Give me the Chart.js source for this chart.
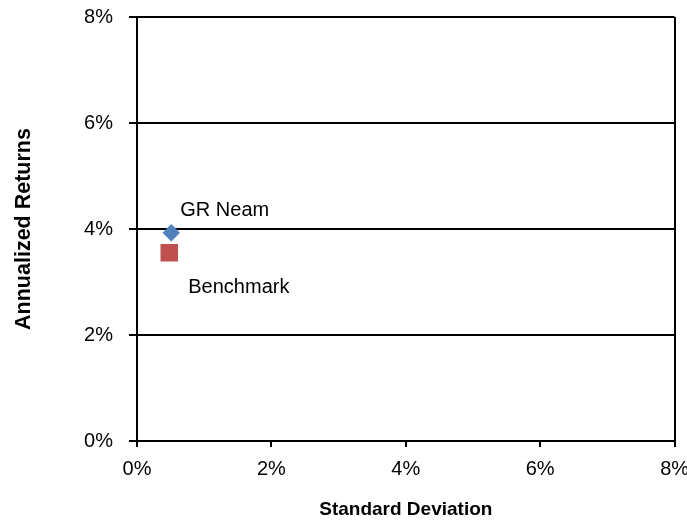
<!DOCTYPE html>
<html>
<head>
<meta charset="utf-8">
<script src="https://cdn.jsdelivr.net/npm/chart.js@4"></script>
<style>
  html, body { margin: 0; padding: 0; background: #fff; }
  #wrap { width: 687px; height: 522px; }
</style>
</head>
<body>
<div id="wrap"><canvas id="riskChart"></canvas></div>
<script>
// values in percent
let seriesNames = ['GR Neam', 'Benchmark'];
let stdDev = [0.51, 0.48];
let annReturns = [3.93, 3.55];
let xTicks = [0, 2, 4, 6, 8];
let yTicks = [0, 2, 4, 6, 8];

// label offsets from the marker (px)
let labelOffsets = [{ dx: 9, dy: -22 }, { dx: 19, dy: 35 }];

let pointLabels = {
    id: 'pointLabels',
    afterDatasetsDraw(chart) {
        let ctx = chart.ctx;
        ctx.save();
        ctx.font = '20px "Liberation Sans", Arial, sans-serif';
        ctx.fillStyle = '#000';
        ctx.textAlign = 'left';
        ctx.textBaseline = 'middle';
        chart.data.datasets.forEach((ds, i) => {
            let pt = chart.getDatasetMeta(i).data[0];
            ctx.fillText(ds.label, pt.x + labelOffsets[i].dx, pt.y + labelOffsets[i].dy);
        });
        ctx.restore();
    }
};

let ctx = document.getElementById('riskChart').getContext('2d');
new Chart(ctx, {
    type: 'scatter',
    data: {
        datasets: [{
            label: seriesNames[0],
            data: [{ x: stdDev[0], y: annReturns[0] }],
            pointStyle: 'rectRot',
            pointRadius: 8.7,
            backgroundColor: '#4F81BD',
            borderColor: '#4F81BD',
            borderWidth: 0
        }, {
            label: seriesNames[1],
            data: [{ x: stdDev[1], y: annReturns[1] }],
            pointStyle: 'rect',
            pointRadius: 12.4,
            backgroundColor: '#C0504D',
            borderColor: '#C0504D',
            borderWidth: 0
        }]
    },
    options: {
        responsive: true,
        maintainAspectRatio: false,
        animation: false,
        layout: { padding: { left: 11, right: 12, top: 17, bottom: 1 } },
        plugins: {
            legend: { display: false },
            tooltip: { enabled: false }
        },
        scales: {
            x: {
                type: 'linear',
                min: 0,
                max: 8,
                afterBuildTicks: (axis) => { axis.ticks = xTicks.map(v => ({ value: v })); },
                afterFit: (axis) => {
                    axis.height = 80;
                    axis.paddingLeft = 0;
                    axis.paddingRight = 0;
                },
                ticks: {
                    color: '#000',
                    font: { family: '"Liberation Sans", Arial, sans-serif', size: 20 },
                    padding: 10,
                    callback: (v) => v + '%'
                },
                grid: {
                    drawOnChartArea: true,
                    color: (c) => (c.tick && c.tick.value === 8) ? '#000' : 'rgba(0,0,0,0)',
                    lineWidth: 2,
                    tickColor: '#000',
                    tickLength: 6
                },
                border: { color: '#000', width: 2 },
                title: {
                    display: true,
                    text: 'Standard Deviation',
                    color: '#000',
                    font: { family: '"Liberation Sans", Arial, sans-serif', size: 19, weight: 'bold' },
                    padding: 0
                }
            },
            y: {
                type: 'linear',
                min: 0,
                max: 8,
                afterBuildTicks: (axis) => { axis.ticks = yTicks.map(v => ({ value: v })); },
                afterFit: (axis) => {
                    axis.width = 126;
                    axis.paddingTop = 0;
                    axis.paddingBottom = 0;
                },
                ticks: {
                    color: '#000',
                    font: { family: '"Liberation Sans", Arial, sans-serif', size: 20 },
                    padding: 16,
                    callback: (v) => v + '%'
                },
                grid: {
                    color: '#000',
                    lineWidth: 2,
                    tickColor: '#000',
                    tickLength: 8
                },
                border: { color: '#000', width: 2 },
                title: {
                    display: true,
                    text: 'Annualized Returns',
                    color: '#000',
                    font: { family: '"Liberation Sans", Arial, sans-serif', size: 21.5, weight: 'bold' },
                    padding: 0
                }
            }
        }
    },
    plugins: [pointLabels]
});
</script>
</body>
</html>
